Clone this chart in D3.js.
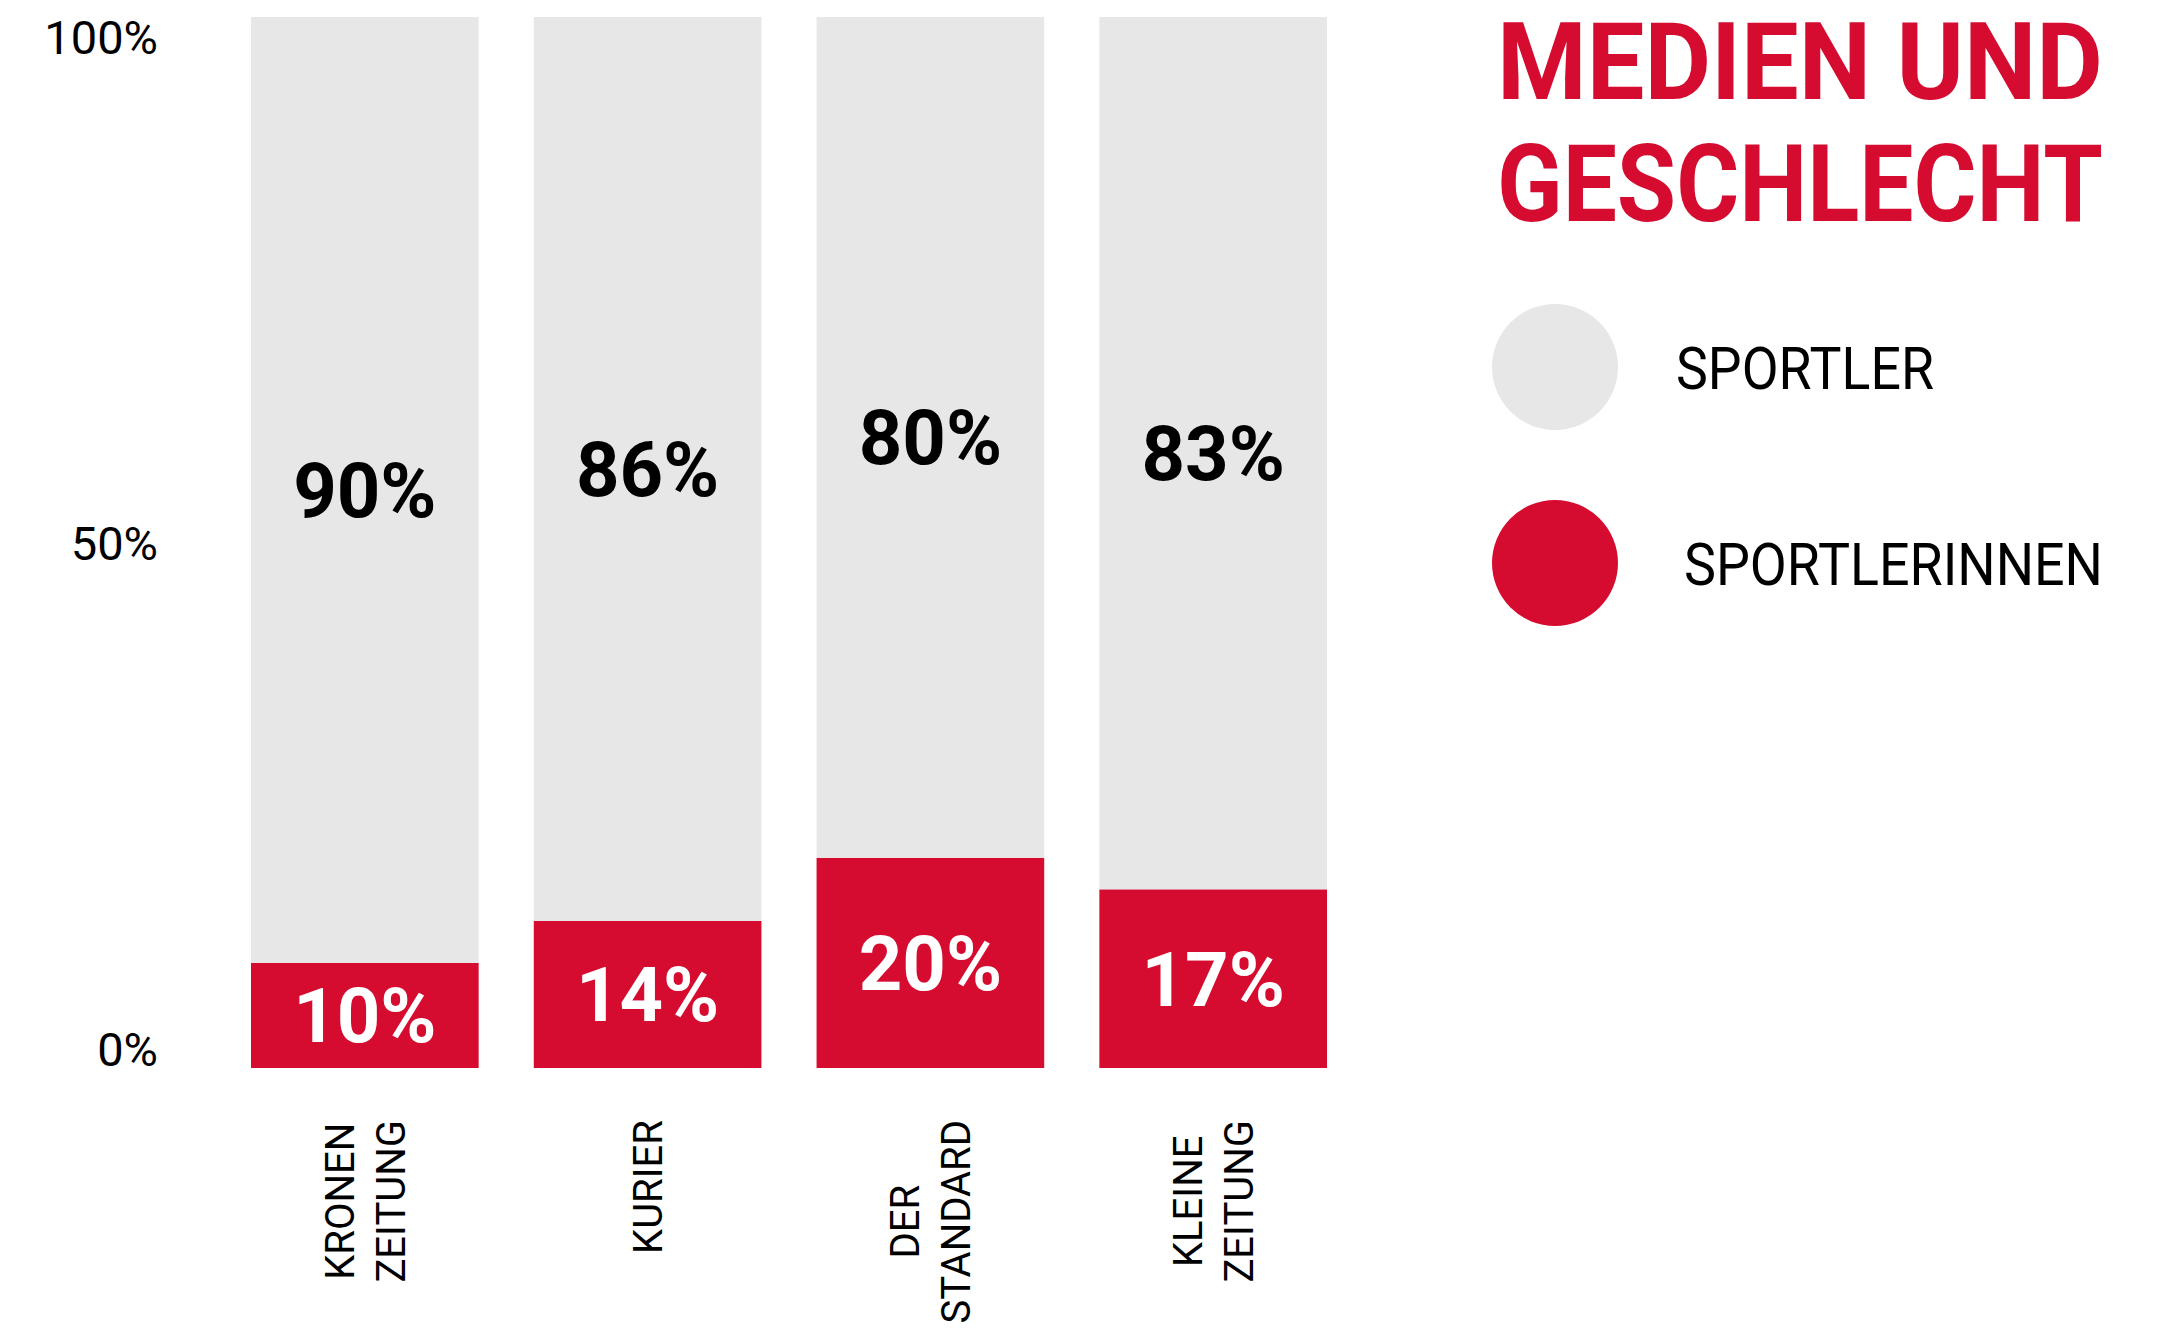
<!DOCTYPE html>
<html>
<head>
<meta charset="utf-8">
<script src="https://cdn.jsdelivr.net/npm/d3@7"></script>
<style>
  html, body { margin: 0; padding: 0; background: #ffffff; }
  svg { display: block; }
</style>
</head>
<body>
<svg id="chart" width="2162" height="1332"></svg>
<script>
// ---- data ----
const categories = ["KRONEN ZEITUNG", "KURIER", "DER STANDARD", "KLEINE ZEITUNG"];
const categoryLines = [["KRONEN", "ZEITUNG"], ["KURIER"], ["DER", "STANDARD"], ["KLEINE", "ZEITUNG"]];
const sportlerinnen = [10, 14, 20, 17];
const sportler = [90, 86, 80, 83];
const seriesKeys = ["sportlerinnen", "sportler"];
const seriesNames = ["SPORTLER", "SPORTLERINNEN"];
const yTicks = [0, 50, 100];
const titleLines = ["MEDIEN UND", "GESCHLECHT"];

// ---- style ----
const RED = "#d60b30";
const GREY = "#e7e7e7";
const FONT = "Roboto, 'Liberation Sans', sans-serif";

const svg = d3.select("#chart");

const rows = categories.map((c, i) => ({ cat: c, sportlerinnen: sportlerinnen[i], sportler: sportler[i] }));
const stacked = d3.stack().keys(seriesKeys)(rows);
const colorOf = { sportlerinnen: RED, sportler: GREY };
const labelColorOf = { sportlerinnen: "#ffffff", sportler: "#000000" };

const x = d3.scaleBand().domain(categories).range([251, 1327]).paddingInner(0.195).paddingOuter(0);
const y = d3.scaleLinear().domain([0, 100]).range([1068, 17]);

// bars
const layers = svg.append("g").selectAll("g").data(stacked).join("g")
  .attr("fill", d => colorOf[d.key]);
layers.selectAll("rect").data(d => d.map(v => ({ v, key: d.key }))).join("rect")
  .attr("x", d => x(d.v.data.cat))
  .attr("width", x.bandwidth())
  .attr("y", d => y(d.v[1]))
  .attr("height", d => y(d.v[0]) - y(d.v[1]));

// value labels
const vfs = 76;
const labelLayers = svg.append("g").selectAll("g").data(stacked).join("g");
labelLayers.selectAll("text").data(d => d.map(v => ({ v, key: d.key }))).join("text")
  .attr("x", d => x(d.v.data.cat) + x.bandwidth() / 2)
  .attr("y", d => (y(d.v[0]) + y(d.v[1])) / 2 + 0.355 * vfs)
  .attr("text-anchor", "middle")
  .attr("font-family", FONT)
  .attr("font-weight", "bold")
  .attr("font-size", vfs)
  .attr("fill", d => labelColorOf[d.key])
  .text(d => (d.v[1] - d.v[0]) + "%");

// y axis labels (own label scale, slightly inset from bar extents as in the original)
const yLab = d3.scaleLinear().domain([0, 100]).range([1049, 36.5]);
const yAxis = d3.axisLeft(yLab).tickValues(yTicks).tickSize(0).tickPadding(0).tickFormat(d => d + "%");
const gy = svg.append("g").attr("transform", "translate(158,0)").call(yAxis);
gy.select(".domain").remove();
gy.selectAll("text")
  .attr("font-family", FONT)
  .attr("font-size", 47)
  .attr("fill", "#000")
  .attr("dy", "0.355em");

// category labels (rotated, multi-line, centred)
const cfs = 40;
const lineGap = 51;
const topEnd = 1120;
const catG = svg.append("g");
categories.forEach((c, i) => {
  const lines = categoryLines[i];
  const cx = x(c) + x.bandwidth() / 2;
  const n = lines.length;
  const g = catG.append("g");
  const texts = lines.map((ln, j) => {
    const lx = cx + (j - (n - 1) / 2) * lineGap + 0.355 * cfs;
    return g.append("text")
      .attr("font-family", FONT)
      .attr("font-size", cfs)
      .attr("fill", "#000")
      .attr("text-anchor", "middle")
      .attr("data-x", lx)
      .text(ln);
  });
  const maxLen = d3.max(texts, t => t.node().getComputedTextLength());
  const cy = topEnd + maxLen / 2;
  texts.forEach(t => {
    t.attr("transform", `translate(${t.attr("data-x")},${cy}) rotate(-90)`);
  });
});

// helper: horizontally condense a text to a target width (the original uses a condensed face)
function fitWidth(sel, targetW, x0, y0) {
  sel.each(function () {
    const w = this.getComputedTextLength();
    const k = Math.min(1, targetW / w);
    d3.select(this).attr("x", 0).attr("y", 0)
      .attr("transform", `translate(${x0},${y0}) scale(${k},1)`);
  });
}

// title
const tfs = 107;
const titleG = svg.append("g");
titleLines.forEach((t, i) => {
  const tx = titleG.append("text")
    .attr("font-family", FONT)
    .attr("font-weight", "bold")
    .attr("font-size", tfs)
    .attr("fill", RED)
    .text(t);
  fitWidth(tx, 606, 1497, 99 + i * 122);
});

// legend
const legendColors = [GREY, RED];
const legendY = d3.scalePoint().domain(seriesNames).range([367, 563]);
const legendTextX = [1676, 1684];
const legendTextLen = [258, 419];
const lg = svg.append("g");
seriesNames.forEach((name, i) => {
  lg.append("circle")
    .attr("cx", 1555)
    .attr("cy", legendY(name))
    .attr("r", 63)
    .attr("fill", legendColors[i]);
  const tx = lg.append("text")
    .attr("font-family", FONT)
    .attr("font-size", 60)
    .attr("fill", "#000")
    .text(name);
  fitWidth(tx, legendTextLen[i], legendTextX[i], legendY(name) + 22);
});
</script>
</body>
</html>
